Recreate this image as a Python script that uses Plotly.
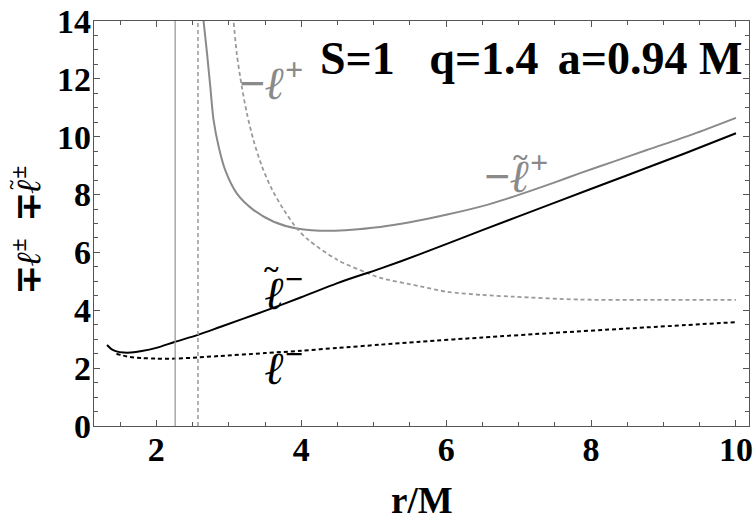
import plotly.graph_objects as go

# ---- data ----
# l~^- (black solid)
r_lt_minus = [1.32, 1.38, 1.45, 1.55, 1.65, 1.80, 2.00, 2.26, 2.575, 2.88, 3.50, 4.00,
              4.50, 5.09, 5.64, 6.50, 7.50, 8.50, 9.30, 10.0]
v_lt_minus = [2.80, 2.66, 2.58, 2.54, 2.54, 2.59, 2.70, 2.91, 3.15, 3.42, 3.98, 4.45,
              4.94, 5.44, 5.94, 6.77, 7.72, 8.67, 9.43, 10.12]

# l^- (black dotted)
r_l_minus = [1.45, 1.60, 1.80, 2.00, 2.26, 2.575, 2.88, 3.50, 4.00, 4.50, 5.09, 5.64,
             6.50, 7.50, 8.50, 10.0]
v_l_minus = [2.50, 2.40, 2.35, 2.33, 2.33, 2.37, 2.42, 2.52, 2.60, 2.70, 2.81, 2.91,
             3.06, 3.22, 3.37, 3.59]

# -l~^+ (gray solid)
r_lt_plus = [2.62, 2.652, 2.70, 2.745, 2.79, 2.86, 2.95, 3.11, 3.34, 3.62, 3.94, 4.40,
             5.09, 5.50, 6.00, 6.50, 6.93, 7.50, 7.85, 8.30, 8.77, 9.40, 10.0]
v_lt_plus = [14.8, 14.0, 12.88, 11.73, 10.58, 9.66, 8.85, 8.04, 7.47, 7.06, 6.83, 6.75,
             6.88, 7.04, 7.30, 7.60, 7.93, 8.42, 8.74, 9.13, 9.54, 10.08, 10.65]

# -l^+ (gray dotted)
r_l_plus = [3.04, 3.066, 3.11, 3.18, 3.25, 3.34, 3.46, 3.60, 3.76, 3.94, 4.10, 4.50,
            4.91, 5.09, 5.64, 6.01, 6.50, 6.93, 7.85, 8.77, 10.0]
v_l_plus = [14.65, 14.0, 12.88, 11.73, 10.81, 9.89, 8.96, 8.16, 7.47, 6.83, 6.43, 5.74,
            5.29, 5.12, 4.83, 4.64, 4.53, 4.47, 4.37, 4.36, 4.36]

# vertical reference lines
r_vline_solid = 2.26
r_vline_dotted = 2.575

x_ticks = [2, 4, 6, 8, 10]
y_ticks = [0, 2, 4, 6, 8, 10, 12, 14]

SERIF = "Liberation Serif, Times New Roman, serif"
GRAY = "#8a8a8a"
LGRAY = "#9a9a9a"
FRAME = "#555555"

fig = go.Figure()

fig.add_trace(go.Scatter(x=r_lt_plus, y=v_lt_plus, mode="lines",
                         line=dict(color=GRAY, width=2, shape="spline", smoothing=0.8)))
fig.add_trace(go.Scatter(x=r_l_plus, y=v_l_plus, mode="lines",
                         line=dict(color=LGRAY, width=1.8, dash="4px,3px",
                                   shape="spline", smoothing=0.8)))
fig.add_trace(go.Scatter(x=r_l_minus, y=v_l_minus, mode="lines",
                         line=dict(color="black", width=2, dash="4px,3px",
                                   shape="spline", smoothing=0.8)))
fig.add_trace(go.Scatter(x=r_lt_minus, y=v_lt_minus, mode="lines",
                         line=dict(color="black", width=2, shape="spline", smoothing=0.8)))

fig.add_vline(x=r_vline_solid, line=dict(color=LGRAY, width=1.3))
fig.add_vline(x=r_vline_dotted, line=dict(color=LGRAY, width=1.5, dash="4px,3px"))

# ---- labels ----
ann = dict(showarrow=False, xref="x", yref="y")
fig.add_annotation(x=10.11, y=12.69, xanchor="right", yanchor="middle",
                   text="<b>S=1\u00a0\u00a0\u00a0q=1.4\u00a0\u2006a=0.94 M</b>",
                   font=dict(family=SERIF, size=46, color="black"), **ann)
fig.add_annotation(x=3.117, y=11.96, xanchor="left", text="<b>−<i>ℓ</i><sup>+</sup></b>",
                   font=dict(family=SERIF, size=46, color=GRAY), **ann)
fig.add_annotation(x=6.497, y=8.75, xanchor="left", text="<b>−<i>ℓ</i><sup>+</sup></b>",
                   font=dict(family=SERIF, size=46, color=GRAY), **ann)
fig.add_annotation(x=3.476, y=4.70, xanchor="left", text="<b><i>ℓ</i><sup>−</sup></b>",
                   font=dict(family=SERIF, size=46, color="black"), **ann)
fig.add_annotation(x=3.476, y=2.11, xanchor="left", text="<b><i>ℓ</i><sup>−</sup></b>",
                   font=dict(family=SERIF, size=46, color="black"), **ann)
# tildes over the l's
fig.add_annotation(x=3.586, y=5.46, text="<b>~</b>",
                   font=dict(family=SERIF, size=28, color="black"), **ann)
fig.add_annotation(x=7.02, y=9.30, text="<b>~</b>",
                   font=dict(family=SERIF, size=28, color=GRAY), **ann)

# y axis title (rotated), drawn as paper annotations
fig.add_annotation(x=-0.1038, y=0.484, xref="paper", yref="paper", showarrow=False,
                   xanchor="center", yanchor="middle", textangle=-90,
                   text="<b>∓<i>ℓ</i><sup>±</sup>\u00a0\u00a0∓<i>ℓ</i><sup>±</sup></b>",
                   font=dict(family=SERIF, size=34, color="black"))
fig.add_annotation(x=-0.1244, y=0.595, xref="paper", yref="paper", showarrow=False,
                   xanchor="center", yanchor="middle", textangle=-90, text="<b>~</b>",
                   font=dict(family=SERIF, size=18, color="black"))
# x axis title
fig.add_annotation(x=0.50, y=-0.183, xref="paper", yref="paper", showarrow=False,
                   xanchor="center", yanchor="middle", text="<b>r/M</b>",
                   font=dict(family=SERIF, size=37, color="black"))

axis_common = dict(
    showgrid=False, zeroline=False, automargin=False,
    showline=True, linecolor=FRAME, linewidth=1.3, mirror="ticks",
    ticks="inside", ticklen=6, tickwidth=1, tickcolor=FRAME,
    tickfont=dict(family=SERIF, size=34, color="black", weight="bold"),
)

fig.update_layout(
    width=756, height=521,
    margin=dict(l=94, r=7, t=21, b=95),
    paper_bgcolor="white", plot_bgcolor="white",
    showlegend=False,
    xaxis=dict(range=[1.14, 10.18], tickvals=x_ticks,
               minor=dict(dtick=0.5, ticks="inside", ticklen=3.5, tickcolor=FRAME),
               ticklabelstandoff=-7, **axis_common),
    yaxis=dict(range=[0, 14], tickvals=y_ticks,
               minor=dict(dtick=0.5, ticks="inside", ticklen=3.5, tickcolor=FRAME),
               ticklabelstandoff=-5, **axis_common),
)

# page body has a default 8px margin; drop it so the figure fills the window
fig.write_html("out.html", config={"displayModeBar": False},
               post_script="document.body.style.margin='0';")
